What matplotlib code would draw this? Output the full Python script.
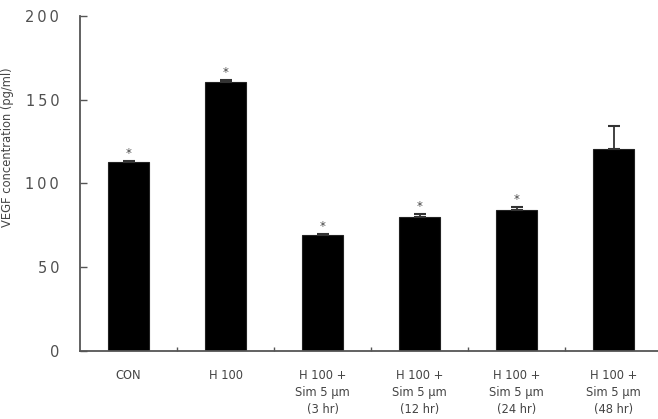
import matplotlib
matplotlib.use("Agg")
import matplotlib.pyplot as plt
import numpy as np

categories = ["CON", "H 100", "H 100 +\nSim 5 µm\n(3 hr)", "H 100 +\nSim 5 µm\n(12 hr)",
              "H 100 +\nSim 5 µm\n(24 hr)", "H 100 +\nSim 5 µm\n(48 hr)"]
values = [112.8, 160.2, 68.9, 80.0, 84.0, 120.2]
errors = [0.8, 1.6, 0.6, 1.6, 2.0, 14.0]
significant = [True, True, True, True, True, False]
yticks = [0, 50, 100, 150, 200]

plt.rcParams['font.family'] = ['DejaVu Sans']
fig = plt.figure(figsize=(6.58, 4.19), dpi=100)
ax = fig.add_axes([80/658, 1-351/419, 1-80/658, (351-15.7)/419])

x = np.arange(len(categories))
ax.bar(x, values, width=0.42, color='black', edgecolor='#222222', linewidth=0.8, zorder=2)
ax.errorbar(x, values, yerr=[np.zeros(len(errors)), errors], fmt='none',
            ecolor='#333333', elinewidth=1.3, capsize=4, capthick=1.5, zorder=3)
for xi, v, e, s in zip(x, values, errors, significant):
    if s:
        ax.text(xi, v + e + 4.5, "*", ha='center', va='center', fontsize=8.5, color='#444444')

ax.set_xlim(-0.5, 5.455)
ax.set_ylim(0, 200)
ax.set_yticks(yticks)
ax.set_yticklabels(["\u2009".join(str(t)) for t in yticks], fontsize=10.5,
                   color='#505050')
ax.set_xticks(x)
ax.set_xticklabels(categories, fontsize=8.3, color='#444444', linespacing=1.4, va='top')
ax.tick_params(axis='x', length=0, pad=13)
ax.set_xticks(np.arange(0.5, 5.0, 1.0), minor=True)
ax.tick_params(axis='x', which='minor', direction='in', length=3, width=1, color='#555555')
ax.tick_params(axis='y', direction='in', length=5, width=1, color='#555555', pad=15)

for sp in ['top', 'right']:
    ax.spines[sp].set_visible(False)
for sp in ['left', 'bottom']:
    ax.spines[sp].set_color('#555555')
    ax.spines[sp].set_linewidth(1.3)

fig.text(8/658, 1-147/419, "VEGF concentration (pg/ml)", rotation=90, ha='center', va='center',
         fontsize=8.3, color='#444444')

fig.savefig("out.png", dpi=100)
